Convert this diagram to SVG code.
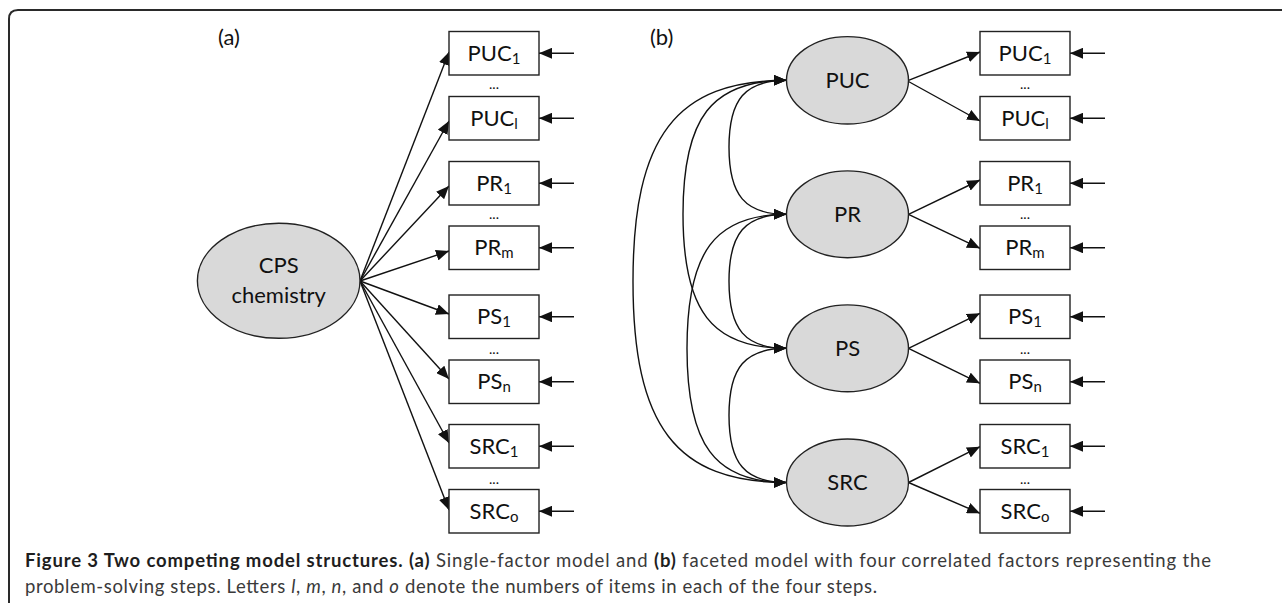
<svg xmlns="http://www.w3.org/2000/svg" width="1282" height="603" viewBox="0 0 1282 603">
<style>
.frame{fill:none;stroke:#2a2a2a;stroke-width:2}
.box{fill:#fff;stroke:#222;stroke-width:1.4}
.lat{fill:#d9d9d9;stroke:#222;stroke-width:1.4}
.lbl{font-family:Lato,"Liberation Sans",sans-serif;font-size:22px;fill:#111;text-anchor:middle}
.sub{font-size:15px}
.dots{font-family:Lato,"Liberation Sans",sans-serif;font-size:14px;fill:#111;text-anchor:middle}
.pl{font-family:Lato,"Liberation Sans",sans-serif;font-size:22px;fill:#111}
.ln{fill:none;stroke:#111;stroke-width:1.4}
.cov{fill:none;stroke:#111;stroke-width:1.4;marker-start:url(#ah);marker-end:url(#ah)}
.arr{marker-end:url(#ah)}
.cap{font-family:Lato,"Liberation Sans",sans-serif;font-size:18.5px;fill:#3a3a3a}
.b{font-weight:bold;fill:#1e1e1e}
.i{font-style:italic}
</style>
<defs>
<marker id="ah" markerUnits="userSpaceOnUse" markerWidth="14" markerHeight="11" refX="13" refY="5.5" orient="auto-start-reverse">
<path d="M0,0 L13,5.5 L0,11 z" fill="#111"/>
</marker>
</defs>
<path class="frame" d="M9,603 V19 Q9,10 18,10 H1282"/>
<text class="pl" x="218" y="45">(a)</text>
<text class="pl" x="650" y="45">(b)</text>

<g id="connectors">
<!-- panel a loadings -->
<line class="ln arr" x1="360" y1="281" x2="449" y2="52"/>
<line class="ln arr" x1="360" y1="281" x2="449" y2="121"/>
<line class="ln arr" x1="360" y1="281" x2="449" y2="186"/>
<line class="ln arr" x1="360" y1="281" x2="449" y2="251"/>
<line class="ln arr" x1="360" y1="281" x2="449" y2="314"/>
<line class="ln arr" x1="360" y1="281" x2="449" y2="379"/>
<line class="ln arr" x1="360" y1="281" x2="449" y2="443"/>
<line class="ln arr" x1="360" y1="281" x2="449" y2="510"/>
<!-- panel a error arrows -->
<line class="ln arr" x1="574" y1="53.25" x2="539" y2="53.25"/>
<line class="ln arr" x1="574" y1="118.25" x2="539" y2="118.25"/>
<line class="ln arr" x1="574" y1="183.25" x2="539" y2="183.25"/>
<line class="ln arr" x1="574" y1="247.75" x2="539" y2="247.75"/>
<line class="ln arr" x1="574" y1="316.75" x2="539" y2="316.75"/>
<line class="ln arr" x1="574" y1="381.75" x2="539" y2="381.75"/>
<line class="ln arr" x1="574" y1="446.25" x2="539" y2="446.25"/>
<line class="ln arr" x1="574" y1="511.25" x2="539" y2="511.25"/>
<!-- panel b loadings -->
<line class="ln arr" x1="908.5" y1="80.3" x2="980" y2="52"/>
<line class="ln arr" x1="908.5" y1="81.5" x2="980" y2="121"/>
<line class="ln arr" x1="908.5" y1="214.3" x2="980" y2="180"/>
<line class="ln arr" x1="908.5" y1="214.3" x2="980" y2="248.3"/>
<line class="ln arr" x1="908.5" y1="348.3" x2="980" y2="313.3"/>
<line class="ln arr" x1="908.5" y1="348.3" x2="980" y2="383.3"/>
<line class="ln arr" x1="908.5" y1="482.5" x2="980" y2="446.7"/>
<line class="ln arr" x1="908.5" y1="482.5" x2="980" y2="513.3"/>
<!-- panel b error arrows -->
<line class="ln arr" x1="1105" y1="53.25" x2="1070" y2="53.25"/>
<line class="ln arr" x1="1105" y1="118.25" x2="1070" y2="118.25"/>
<line class="ln arr" x1="1105" y1="183.25" x2="1070" y2="183.25"/>
<line class="ln arr" x1="1105" y1="247.75" x2="1070" y2="247.75"/>
<line class="ln arr" x1="1105" y1="316.75" x2="1070" y2="316.75"/>
<line class="ln arr" x1="1105" y1="381.75" x2="1070" y2="381.75"/>
<line class="ln arr" x1="1105" y1="446.25" x2="1070" y2="446.25"/>
<line class="ln arr" x1="1105" y1="511.25" x2="1070" y2="511.25"/>
<!-- covariances -->
<path class="cov" d="M786.5,80.3 C745.1,80.3 729,99.1 729,147.3 C729,195.5 745.1,214.3 786.5,214.3"/>
<path class="cov" d="M786.5,214.3 C745.1,214.3 729,233.1 729,281.3 C729,329.5 745.1,348.3 786.5,348.3"/>
<path class="cov" d="M786.5,348.3 C745.1,348.3 729,367.1 729,415.4 C729,463.7 745.1,482.5 786.5,482.5"/>
<path class="cov" d="M786.5,80.3 C711.9,80.3 683,117.6 683,214.3 C683,311 711.9,348.3 786.5,348.3"/>
<path class="cov" d="M786.5,214.3 C714.8,214.3 687,251.8 687,348.4 C687,445 714.8,482.5 786.5,482.5"/>
<path class="cov" d="M786.5,80.3 C676,80.3 633,136.6 633,281.4 C633,426.2 676,482.5 786.5,482.5"/>
</g>

<g id="cps"><ellipse class="lat" cx="278.7" cy="280.8" rx="81.3" ry="57.5"/>
<text class="lbl" x="278.7" y="273.3">CPS</text><text class="lbl" x="278.7" y="302.7">chemistry</text></g>

<g id="a-puc1"><rect class="box" x="449" y="31.5" width="90" height="43.5"/><text class="lbl" x="494" y="60.75">PUC<tspan class="sub" dy="3">1</tspan></text></g>
<g id="a-pucl"><rect class="box" x="449" y="96.5" width="90" height="43.5"/><text class="lbl" x="494" y="125.75">PUC<tspan class="sub" dy="3">l</tspan></text></g>
<g id="a-pr1"><rect class="box" x="449" y="161.5" width="90" height="43.5"/><text class="lbl" x="494" y="190.75">PR<tspan class="sub" dy="3">1</tspan></text></g>
<g id="a-prm"><rect class="box" x="449" y="226" width="90" height="43.5"/><text class="lbl" x="494" y="255.25">PR<tspan class="sub" dy="3">m</tspan></text></g>
<g id="a-ps1"><rect class="box" x="449" y="295" width="90" height="43.5"/><text class="lbl" x="494" y="324.25">PS<tspan class="sub" dy="3">1</tspan></text></g>
<g id="a-psn"><rect class="box" x="449" y="360" width="90" height="43.5"/><text class="lbl" x="494" y="389.25">PS<tspan class="sub" dy="3">n</tspan></text></g>
<g id="a-src1"><rect class="box" x="449" y="424.5" width="90" height="43.5"/><text class="lbl" x="494" y="453.75">SRC<tspan class="sub" dy="3">1</tspan></text></g>
<g id="a-srco"><rect class="box" x="449" y="489.5" width="90" height="43.5"/><text class="lbl" x="494" y="518.75">SRC<tspan class="sub" dy="3">o</tspan></text></g>
<g id="a-dots">
<text class="dots" x="494" y="89">...</text><text class="dots" x="494" y="219">...</text>
<text class="dots" x="494" y="353.5">...</text><text class="dots" x="494" y="483.5">...</text></g>

<g id="puc"><ellipse class="lat" cx="847.5" cy="80.3" rx="61" ry="43.7"/><text class="lbl" x="847.5" y="88">PUC</text></g>
<g id="pr"><ellipse class="lat" cx="847.5" cy="214.3" rx="61" ry="43.4"/><text class="lbl" x="847.5" y="222">PR</text></g>
<g id="ps"><ellipse class="lat" cx="847.5" cy="348.3" rx="61" ry="43.4"/><text class="lbl" x="847.5" y="356">PS</text></g>
<g id="src"><ellipse class="lat" cx="847.5" cy="482.5" rx="61" ry="43.5"/><text class="lbl" x="847.5" y="490">SRC</text></g>

<g id="b-puc1"><rect class="box" x="980" y="31.5" width="90" height="43.5"/><text class="lbl" x="1025" y="60.75">PUC<tspan class="sub" dy="3">1</tspan></text></g>
<g id="b-pucl"><rect class="box" x="980" y="96.5" width="90" height="43.5"/><text class="lbl" x="1025" y="125.75">PUC<tspan class="sub" dy="3">l</tspan></text></g>
<g id="b-pr1"><rect class="box" x="980" y="161.5" width="90" height="43.5"/><text class="lbl" x="1025" y="190.75">PR<tspan class="sub" dy="3">1</tspan></text></g>
<g id="b-prm"><rect class="box" x="980" y="226" width="90" height="43.5"/><text class="lbl" x="1025" y="255.25">PR<tspan class="sub" dy="3">m</tspan></text></g>
<g id="b-ps1"><rect class="box" x="980" y="295" width="90" height="43.5"/><text class="lbl" x="1025" y="324.25">PS<tspan class="sub" dy="3">1</tspan></text></g>
<g id="b-psn"><rect class="box" x="980" y="360" width="90" height="43.5"/><text class="lbl" x="1025" y="389.25">PS<tspan class="sub" dy="3">n</tspan></text></g>
<g id="b-src1"><rect class="box" x="980" y="424.5" width="90" height="43.5"/><text class="lbl" x="1025" y="453.75">SRC<tspan class="sub" dy="3">1</tspan></text></g>
<g id="b-srco"><rect class="box" x="980" y="489.5" width="90" height="43.5"/><text class="lbl" x="1025" y="518.75">SRC<tspan class="sub" dy="3">o</tspan></text></g>
<g id="b-dots">
<text class="dots" x="1025" y="89">...</text><text class="dots" x="1025" y="219">...</text>
<text class="dots" x="1025" y="353.5">...</text><text class="dots" x="1025" y="483.5">...</text></g>

<g id="caption">
<text class="cap" x="25" y="566.7" textLength="1186" lengthAdjust="spacing"><tspan class="b">Figure 3 Two competing model structures. (a)</tspan> Single-factor model and <tspan class="b">(b)</tspan> faceted model with four correlated factors representing the</text>
<text class="cap" x="25" y="593.3" textLength="852" lengthAdjust="spacing">problem-solving steps. Letters <tspan class="i">l</tspan>, <tspan class="i">m</tspan>, <tspan class="i">n</tspan>, and <tspan class="i">o</tspan> denote the numbers of items in each of the four steps.</text>
</g>
</svg>
